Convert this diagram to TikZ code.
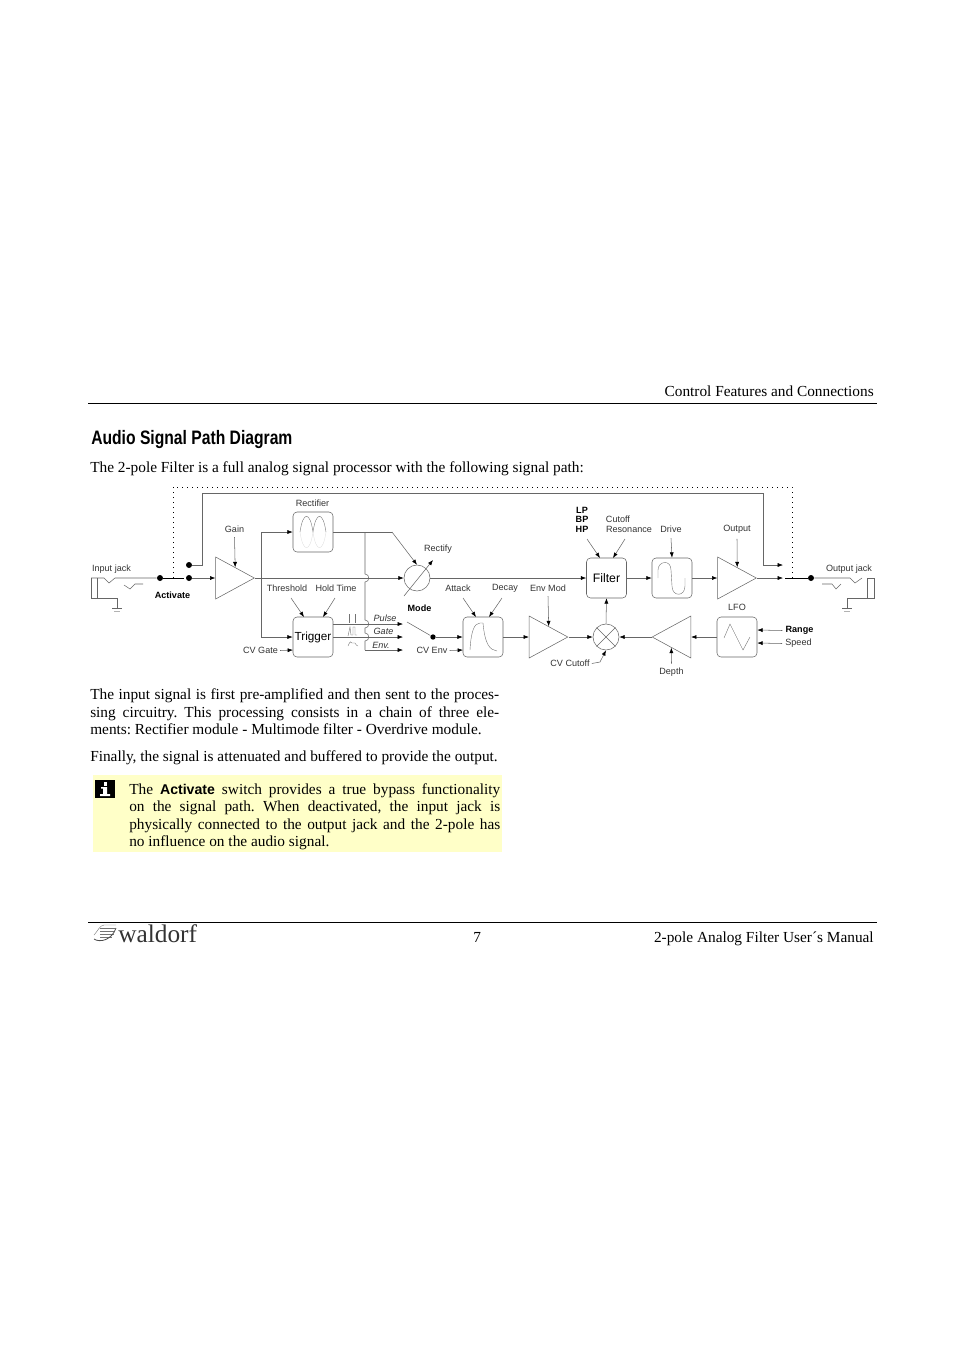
\documentclass[tikz,border=0pt]{standalone}
\usepackage{fontspec}
\usepackage{xcolor}
\setmainfont{Liberation Serif}
\newfontfamily\labelfont{Liberation Sans}
\usetikzlibrary{shapes,arrows.meta,positioning}
\definecolor{notefill}{HTML}{FFFFC8}
\definecolor{wire}{gray}{0.4}

\begin{document}
\frenchspacing
\begin{tikzpicture}[
  x=0.75pt, y=-0.75pt,
  >={Latex[length=4pt,width=3pt,black]},
  signal/.style={draw=wire, line width=0.4pt},
  arrow/.style={->, draw=wire, line width=0.4pt},
  contact/.style={draw=black, line width=0.6pt},
  wave/.style={draw=black!55, line width=0.3pt},
  dotline/.style={draw=black, line width=0.6pt, dash pattern=on 0.6pt off 3.15pt},
  module/.style={rectangle, draw=wire, line width=0.4pt, rounded corners=3pt, minimum size=30pt, inner sep=0pt},
  amp/.style={isosceles triangle, isosceles triangle stretches, draw=wire, line width=0.4pt, minimum width=31.5pt, minimum height=29pt, inner sep=0pt},
  ring/.style={circle, draw=wire, line width=0.4pt, minimum size=19.5pt, inner sep=0pt},
  pin/.style={circle, fill=black, minimum size=4.5pt, inner sep=0pt},
  lbl/.style={font=\labelfont\fontsize{6.8}{8}\selectfont, text=black!80, inner sep=0pt},
  lblb/.style={font=\labelfont\bfseries\fontsize{6.8}{8}\selectfont, inner sep=0pt},
  lbli/.style={font=\labelfont\itshape\fontsize{6.8}{8}\selectfont, text=black!80, inner sep=0pt},
  bodytext/.style={anchor=base west, inner sep=0pt, font=\fontsize{11.5}{13.2}\selectfont},
  bodypar/.style={anchor=north west, inner sep=0pt, align=justify, font=\fontsize{11.5}{13.2}\selectfont}
]
\useasboundingbox (0,0) rectangle (954,1350);

\node[bodytext, anchor=base east] (header) at (874,396) {Control Features and Connections};
\coordinate (ruleTL) at (88,403);
\coordinate (ruleTR) at (877,403);
\draw[line width=0.6pt] (ruleTL) -- (ruleTR);
\node[anchor=base west, inner sep=0pt] (heading) at (91,444) {\scalebox{0.805}[1]{\labelfont\bfseries\fontsize{14.6}{16}\selectfont Audio Signal Path Diagram}};
\node[bodytext] (intro) at (90,472) {The 2-pole Filter is a full analog signal processor with the following signal path:};

\node[ring] (rectify) at (417,578) {};
\node[ring] (mixer) at (606,637) {};
\node[module] (rectifier) at (313,532) {};
\node[module, font=\labelfont\fontsize{8.8}{10}\selectfont] (trigger) at (313,637) {Trigger};
\node[module] (envelope) at (483,637) {};
\node[module, font=\labelfont\fontsize{9.2}{10}\selectfont] (filter) at (606.5,578) {Filter};
\node[module] (drive) at (672,578) {};
\node[module] (lfo) at (737,637) {};
\node[amp, anchor=apex] (gain) at (255,578) {};
\node[amp, anchor=apex] (envmod) at (568.5,637) {};
\node[amp, anchor=apex] (output) at (757,578) {};
\node[amp, anchor=apex, shape border rotate=180] (depth) at (651.5,637) {};

\node[pin] (pinIn) at (160,578) {};
\node[pin] (pinOn) at (189,578) {};
\node[pin] (pinOff) at (189,565) {};
\node[pin] (pinOut) at (811,578) {};
\node[pin, minimum size=4pt] (pinMode) at (433,637) {};

\node[lbl] (lInput) at (111.5,569) {Input jack};
\node[lblb] (lActivate) at (172.5,595) {Activate};
\node[lbl] (lGain) at (234.5,529.5) {Gain};
\node[lbl] (lRectifier) at (312.5,503) {Rectifier};
\node[lbl] (lRectify) at (438,549.5) {Rectify};
\node[lbl] (lThreshold) at (287,588.5) {Threshold};
\node[lbl] (lHold) at (336,588.5) {Hold Time};
\node[lbl] (lCVGate) at (260.5,650.5) {CV Gate};
\node[lblb] (lMode) at (419.5,608) {Mode};
\node[lbli] (lPulse) at (385,618.5) {Pulse};
\node[lbli] (lGate) at (383.5,631.5) {Gate};
\node[lbli] (lEnv) at (381,645) {Env.};
\node[lbl] (lCVEnv) at (432,650.5) {CV Env};
\node[lbl] (lAttack) at (458,588.5) {Attack};
\node[lbl] (lDecay) at (505,588.5) {Decay};
\node[lbl] (lEnvMod) at (548,588.5) {Env Mod};
\node[lbl] (lCVCutoff) at (570,663.5) {CV Cutoff};
\node[lblb] (lLP) at (582,510.5) {LP};
\node[lblb] (lBP) at (582,519.5) {BP};
\node[lblb] (lHP) at (582,529) {HP};
\node[lbl] (lCutoff) at (618,519.5) {Cutoff};
\node[lbl] (lResonance) at (629,529) {Resonance};
\node[lbl] (lDrive) at (671,529.5) {Drive};
\node[lbl] (lOutput) at (737,529.5) {Output};
\node[lbl] (lOutputJack) at (849,569) {Output jack};
\node[lbl] (lLFO) at (737,607.5) {LFO};
\node[lblb] (lRange) at (799.5,630.5) {Range};
\node[lbl] (lSpeed) at (798.5,643.5) {Speed};
\node[lbl] (lDepth) at (671.5,672) {Depth};

\coordinate (jackTop) at (91,578);
\draw[signal] (jackTop) -- (104,578) -- (109,583) -- (115,578) -- (pinIn);
\draw[signal] (124,585) -- (130,589) -- (135,584) -- (143,584);
\draw[signal] (jackTop) -- (91,598) -- (117,598) -- (117,608);
\draw[signal] (97,578) -- (97,598);
\draw[signal] (112,608) -- (122,608);
\draw[wave, draw=black!30] (114,611) -- (120,611);

\draw[contact] (pinIn) -- (184,578);
\draw[dotline] (173,578) -- (173,487) -- (792,487) -- (792,578);
\draw[arrow] (pinOff) -- (202,565) -- (202,493) -- (763,493) -- (763,565) -- (783,565);
\draw[arrow] (pinOn) -- (gain.lower side);
\draw[arrow] (lGain.south) ++(0,4) -- (gain.left side);
\draw[arrow] (gain.apex) -- (261,578) -- (261,532) -- (rectifier.west);
\draw[signal] (261,578) -- (261,637);
\draw[arrow] (261,637) -- (trigger.west);
\draw[arrow] (lCVGate.east) ++(2,0) -- (293,650);
\draw[arrow] (291,598) -- (304,617);
\draw[arrow] (335,598) -- (323,617);

\draw[arrow] (gain.apex) -- (rectify.west);
\draw[signal] (rectifier.east) -- (392,532);
\draw[arrow] (392,532) -- (rectify.north);
\draw[arrow] (404,596) -- (433,560);
\draw[signal] (365,532) -- (365,574) .. controls (370,574) and (370,582) .. (365,582)
  -- (365,620) .. controls (370,620) and (370,628) .. (365,628)
  -- (365,633) .. controls (370,633) and (370,641) .. (365,641) -- (365,650);
\draw[arrow] (365,650) -- (403,650);
\draw[arrow] (trigger.east |- 0,624) -- (403,624);
\draw[arrow] (trigger.east) -- (403,637);
\draw[signal] (407,622) -- (pinMode);
\draw[arrow] (pinMode) -- (envelope.west);
\draw[arrow] (lCVEnv.east) ++(2,0) -- (463,650);
\draw[arrow] (463,598) -- (476,617);
\draw[arrow] (502,598) -- (489,617);
\draw[arrow] (envelope.east) -- (envmod.lower side);
\draw[arrow] (lEnvMod.south) ++(0,4) -- (envmod.left side);
\draw[arrow] (rectify.east) -- (filter.west);
\draw[arrow] (envmod.apex) -- (mixer.west);
\draw[arrow] (lCVCutoff.east) ++(2,0) -- (600,662) -- (mixer.south);
\draw[arrow] (mixer.north) -- (filter.south);
\draw[signal] (mixer.north west) -- (mixer.south east);
\draw[signal] (mixer.north east) -- (mixer.south west);
\draw[arrow] (587,539) -- (600,558);
\draw[arrow] (625,539) -- (613,558);
\draw[arrow] (filter.east) -- (drive.west);
\draw[arrow] (lDrive.south) ++(0,5) -- (drive.north);
\draw[arrow] (drive.east) -- (output.lower side);
\draw[arrow] (lOutput.south) ++(0,5) -- (output.left side);
\draw[arrow] (output.apex) -- (783,578);
\draw[contact] (785,578) -- (pinOut);

\draw[signal] (pinOut) -- (850,578) -- (855,583) -- (862,578);
\draw[signal] (822,584) -- (832,584) -- (836,589) -- (841,584);
\draw[signal] (867,578) -- (874,578) -- (874,598) -- (847,598) -- (847,608);
\draw[signal] (867,578) -- (867,598);
\draw[signal] (842,608) -- (852,608);
\draw[wave, draw=black!30] (844,611) -- (850,611);

\draw[arrow] (lRange.west) ++(-3,0) -- (lfo.east |- 0,630);
\draw[arrow] (lSpeed.west) ++(-3,0) -- (lfo.east |- 0,643);
\draw[arrow] (lfo.west) -- (depth.lower side);
\draw[arrow] (depth.apex) -- (mixer.east);
\draw[arrow] (lDepth.north) ++(0,-4) -- (depth.left side);

\draw[wave] (300,532) .. controls (303,511) and (310,511) .. (313,532) .. controls (316,511) and (323,511) .. (326,532);
\draw[wave, draw=black!12] (300,532) .. controls (303,553) and (310,553) .. (313,532) .. controls (316,553) and (323,553) .. (326,532);
\draw[wave] (470,650) .. controls (471,632) and (474,623) .. (480,623) -- (483,623) .. controls (485,645) and (490,650) .. (497,651);
\draw[wave] (658,578) -- (658,570) .. controls (658,561) and (671,559) .. (671,570) -- (672,586) .. controls (672,597) and (685,597) .. (685,586) -- (685,578);
\draw[wave] (724,638) -- (730,624) -- (743,650) -- (750,637);

\draw[wave] (349,614) -- (349,623);
\draw[wave] (355,614) -- (355,623);
\draw[wave] (348,636) -- (350,627) -- (351,635) -- (353,635) -- (353,627) -- (355,627) -- (355,635) -- (357,635);
\draw[wave] (348,646) .. controls (350,641) and (351,641) .. (352,643) -- (355,643) .. controls (356,645) and (357,646) .. (358,646);

\node[bodypar, text width=306.75pt] (para1) at (90,688.5) {The input signal is first pre-amplified and then sent to the proces-\linebreak sing circuitry. This processing consists in a chain of three ele-\linebreak ments: Rectifier module - Multimode filter - Overdrive module.};
\node[bodytext] (para2) at (90,761) {Finally, the signal is attenuated and buffered to provide the output.};

\node[rectangle, fill=notefill, anchor=north west, minimum width=306.75pt, minimum height=57.75pt, inner sep=0pt] (notebox) at (93,775) {};
\node[rectangle, fill=black, anchor=north west, minimum width=15pt, minimum height=13.5pt, inner sep=0pt] (infoicon) at (95,780) {};
\fill[white] (103.5,782) rectangle (107,785.5);
\fill[white] (101,787) rectangle (107,788.5) (103,788.5) rectangle (107,794) (100,794) rectangle (110,796);
\node[bodypar, text width=278.25pt] (note) at (129,783) {The {\labelfont\bfseries\fontsize{10.6}{13.2}\selectfont Activate} switch provides a true bypass functionality on the signal path. When deactivated, the input jack is\linebreak physically connected to the output jack and the 2-pole has\linebreak no influence on the audio signal.};

\coordinate (ruleBL) at (88,922);
\coordinate (ruleBR) at (877,922);
\draw[line width=0.6pt] (ruleBL) -- (ruleBR);
\node[anchor=base west, inner sep=0pt, font=\fontsize{19}{20}\selectfont, text=black!80] (logotext) at (118,942) {waldorf};
\draw[wave] (94,935) .. controls (97,932) and (100,925) .. (104,925) -- (116,925);
\foreach \ly/\lx in {928/115,931/114,934/114,937/112}{
  \draw[wave, line width=0.6pt] (100,\ly) -- (\lx,\ly);
}
\draw[draw=black!70, line width=0.6pt] (94,939) .. controls (100,943) and (112,940) .. (116,928);
\node[bodytext] (pagenum) at (473,942) {7};
\node[bodytext, anchor=base east] (footer) at (874,942) {2-pole Analog Filter User´s Manual};
\end{tikzpicture}
\end{document}
